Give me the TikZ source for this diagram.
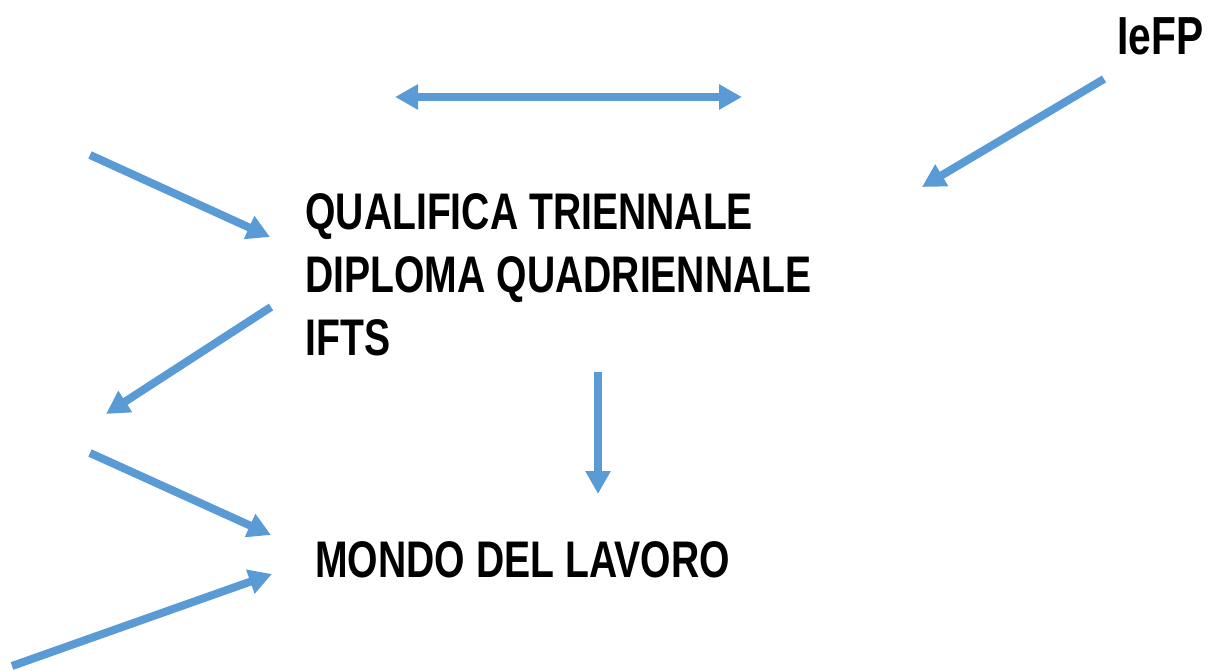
\documentclass[tikz,border=0pt]{standalone}
\usepackage{fontspec}
\setmainfont{Liberation Sans}
\newfontfamily\condfont[FakeStretch=0.76]{Liberation Sans}
\usetikzlibrary{arrows.meta}
\definecolor{arrowblue}{RGB}{91,155,213}
\tikzset{
  freccia/.style={draw=arrowblue,line width=0.16cm,
    -{Triangle[length=0.46cm,width=0.48cm]}},
  voce/.style={inner sep=0pt,anchor=base west,
    font=\condfont\bfseries\fontsize{29.3pt}{35pt}\selectfont},
}
\begin{document}
\begin{tikzpicture}[x=0.02cm,y=-0.02cm]
        \useasboundingbox (0,0) rectangle (1212,671);

        \node[voce,anchor=base east,font=\condfont\bfseries\fontsize{30.5pt}{35pt}\selectfont] (iefp) at (1204,55) {IeFP};
        \node[voce] (qualifica) at (305,230) {QUALIFICA TRIENNALE};
        \node[voce] (diploma) at (305,293) {DIPLOMA QUADRIENNALE};
        \node[voce] (ifts) at (305,356) {IFTS};
        \node[voce] (lavoro) at (315,577) {MONDO DEL LAVORO};

        \coordinate (sx) at (395,97);
        \coordinate (dx) at (742,97);
        \coordinate (iefpA) at (1104,79);
        \coordinate (iefpB) at (922,187);
        \coordinate (inA) at (90,155);
        \coordinate (inB) at (270,237);
        \coordinate (outA) at (271,307);
        \coordinate (outB) at (106,414);
        \coordinate (giuA) at (598,372);
        \coordinate (giuB) at (598,494);
        \coordinate (lavA) at (90,453);
        \coordinate (lavB) at (271,535);
        \coordinate (lavC) at (12,666);
        \coordinate (lavD) at (272,574);

        \draw[freccia,{Triangle[length=0.46cm,width=0.48cm]}-{Triangle[length=0.46cm,width=0.48cm]}] (sx) -- (dx);
        \draw[freccia] (iefpA) -- (iefpB);
        \draw[freccia] (inA) -- (inB);
        \draw[freccia] (outA) -- (outB);
        \draw[freccia] (giuA) -- (giuB);
        \draw[freccia] (lavA) -- (lavB);
        \draw[freccia] (lavC) -- (lavD);
\end{tikzpicture}
\end{document}
